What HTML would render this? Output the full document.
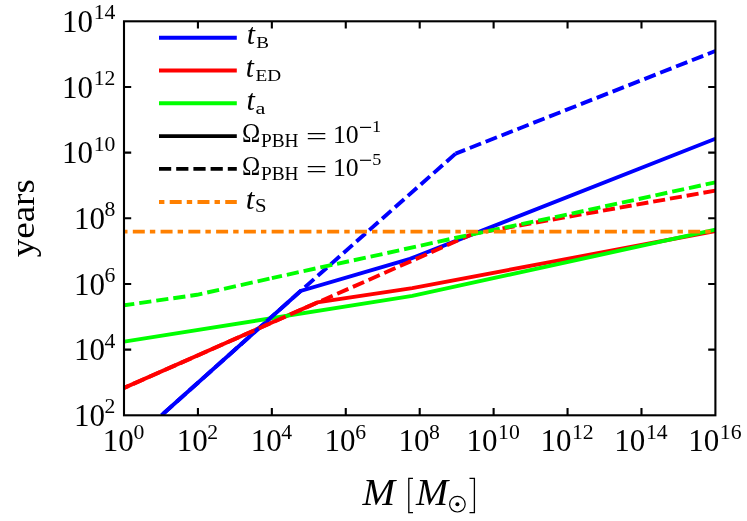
<!DOCTYPE html>
<html><head><meta charset="utf-8"><title>plot</title>
<style>
html,body{margin:0;padding:0;background:#fff;}
body{width:747px;height:521px;position:relative;overflow:hidden;font-family:"Liberation Serif",serif;}
</style></head><body>
<svg width="747" height="521" viewBox="0 0 747 521" style="position:absolute;left:0;top:0;will-change:transform">
<defs><clipPath id="c"><rect x="124.00" y="21.30" width="591.40" height="394.00"/></clipPath></defs>
<g clip-path="url(#c)" fill="none" stroke-width="3.90" stroke-linejoin="miter">
<polyline points="161.50,415.30 300.60,291.00 410.00,258.90 715.40,138.70" stroke="#0000ff"/>
<polyline points="124.00,388.00 317.40,302.40 412.30,288.10 715.40,231.00" stroke="#ff0000"/>
<polyline points="124.00,341.60 412.30,295.90 715.40,229.70" stroke="#00ff00"/>
<polyline points="161.50,415.30 300.60,291.00 455.60,153.60" stroke="#0000ff" stroke-dasharray="12.2 5" stroke-dashoffset="14.1"/>
<polyline points="455.60,153.60 715.40,51.00" stroke="#0000ff" stroke-dasharray="12.1 4.96" stroke-dashoffset="1.8"/>
<polyline points="124.00,388.00 473.20,233.70" stroke="#ff0000" stroke-dasharray="12.2 4.95" stroke-dashoffset="7.0"/>
<polyline points="473.20,233.70 715.40,190.60" stroke="#ff0000" stroke-dasharray="12.1 4.9" stroke-dashoffset="4.2"/>
<polyline points="124.00,305.30 197.00,294.80 271.85,278.10" stroke="#00ff00" stroke-dasharray="12.2 5" stroke-dashoffset="1.8"/>
<polyline points="271.85,278.10 320.00,267.50 380.00,254.60 455.00,238.00 555.00,217.20 715.40,182.30" stroke="#00ff00" stroke-dasharray="12.17 4.97" stroke-dashoffset="1.8"/>
<polyline points="124.00,231.60 715.40,231.60" stroke="#ff8000" stroke-dasharray="5.4 5.3 12 5.07" stroke-dashoffset="1.9"/>
</g>
<g stroke="#000" stroke-width="2.1" fill="none">
<rect x="124.00" y="21.30" width="591.40" height="394.00"/>
<path d="M197.93 415.30V408.10M197.93 21.30V28.50M271.85 415.30V408.10M271.85 21.30V28.50M345.77 415.30V408.10M345.77 21.30V28.50M419.70 415.30V408.10M419.70 21.30V28.50M493.62 415.30V408.10M493.62 21.30V28.50M567.55 415.30V408.10M567.55 21.30V28.50M641.48 415.30V408.10M641.48 21.30V28.50M124.00 349.63H131.20M715.40 349.63H708.20M124.00 283.97H131.20M715.40 283.97H708.20M124.00 218.30H131.20M715.40 218.30H708.20M124.00 152.63H131.20M715.40 152.63H708.20M124.00 86.97H131.20M715.40 86.97H708.20"/>
</g>
<g fill="none" stroke-width="3.90">
<path d="M159.0 37.70H236.8" stroke="#0000ff"/>
<path d="M159.0 70.50H236.8" stroke="#ff0000"/>
<path d="M159.0 103.30H236.8" stroke="#00ff00"/>
<path d="M159.0 136.10H236.8" stroke="#000"/>
<path d="M159.0 168.90H236.8" stroke="#000" stroke-dasharray="12.2 5"/>
<path d="M159.0 202.00H236.8" stroke="#ff8000" stroke-dasharray="5.4 5.3 12 5.07"/>
</g>
<g font-family='"Liberation Serif", serif' fill="#000">
<text x="102.78" y="450.70" font-size="31">10</text><text x="133.38" y="439.00" font-size="21.7">0</text>
<text x="176.70" y="450.70" font-size="31">10</text><text x="207.30" y="439.00" font-size="21.7">2</text>
<text x="250.63" y="450.70" font-size="31">10</text><text x="281.23" y="439.00" font-size="21.7">4</text>
<text x="324.55" y="450.70" font-size="31">10</text><text x="355.15" y="439.00" font-size="21.7">6</text>
<text x="398.47" y="450.70" font-size="31">10</text><text x="429.07" y="439.00" font-size="21.7">8</text>
<text x="466.48" y="450.70" font-size="31">10</text><text x="498.08" y="439.00" font-size="21.7">10</text>
<text x="540.40" y="450.70" font-size="31">10</text><text x="572.00" y="439.00" font-size="21.7">12</text>
<text x="614.33" y="450.70" font-size="31">10</text><text x="645.93" y="439.00" font-size="21.7">14</text>
<text x="688.25" y="450.70" font-size="31">10</text><text x="719.85" y="439.00" font-size="21.7">16</text>
<text x="73.95" y="426.10" font-size="31">10</text><text x="104.55" y="413.20" font-size="21.7">2</text>
<text x="73.95" y="360.43" font-size="31">10</text><text x="104.55" y="347.53" font-size="21.7">4</text>
<text x="73.95" y="294.77" font-size="31">10</text><text x="104.55" y="281.87" font-size="21.7">6</text>
<text x="73.95" y="229.10" font-size="31">10</text><text x="104.55" y="216.20" font-size="21.7">8</text>
<text x="62.10" y="163.43" font-size="31">10</text><text x="93.70" y="150.53" font-size="21.7">10</text>
<text x="62.10" y="97.77" font-size="31">10</text><text x="93.70" y="84.87" font-size="21.7">12</text>
<text x="62.10" y="32.10" font-size="31">10</text><text x="93.70" y="19.20" font-size="21.7">14</text>
</g>
<g font-family='"Liberation Serif", serif' fill="#000">
<text transform="translate(246.72 44.20) scale(1.0301 1)" font-size="28.75" font-style="italic">t</text>
<text transform="translate(256.33 47.80) scale(1.1017 1)" font-size="17.38" font-style="normal">B</text>
<text transform="translate(245.73 76.90) scale(1.0167 1)" font-size="28.75" font-style="italic">t</text>
<text transform="translate(255.42 80.80) scale(1.1501 1)" font-size="16.77" font-style="normal">ED</text>
<text transform="translate(246.50 109.80) scale(1.0500 1)" font-size="28.57" font-style="italic">t</text>
<text transform="translate(255.61 113.50) scale(1.2786 1)" font-size="17.45" font-style="normal">a</text>
<text transform="translate(242.07 142.30) scale(0.8908 1)" font-size="27.54" font-style="normal">Ω</text>
<text transform="translate(260.92 146.90) scale(1.0403 1)" font-size="18.62" font-style="normal">PBH</text>
<path d="M307.8 133.70H325.3M307.8 138.70H325.3" stroke="#000" stroke-width="1.3" fill="none"/>
<text transform="translate(332.88 142.60) scale(0.9996 1)" font-size="25.76" font-style="normal">10</text>
<path d="M360 127.40H371.1" stroke="#000" stroke-width="1.2" fill="none"/>
<text transform="translate(372.05 132.10) scale(1.1175 1)" font-size="16.36" font-style="normal">1</text>
<text transform="translate(242.07 175.20) scale(0.8908 1)" font-size="27.54" font-style="normal">Ω</text>
<text transform="translate(260.92 179.80) scale(1.0403 1)" font-size="18.62" font-style="normal">PBH</text>
<path d="M307.8 166.60H325.3M307.8 171.60H325.3" stroke="#000" stroke-width="1.3" fill="none"/>
<text transform="translate(332.88 175.50) scale(0.9996 1)" font-size="25.76" font-style="normal">10</text>
<path d="M360 160.30H371.1" stroke="#000" stroke-width="1.2" fill="none"/>
<text transform="translate(372.36 165.30) scale(1.0502 1)" font-size="17.23" font-style="normal">5</text>
<text transform="translate(245.85 208.80) scale(1.0573 1)" font-size="29.46" font-style="italic">t</text>
<text transform="translate(255.05 212.40) scale(1.0858 1)" font-size="19.08" font-style="normal">S</text>
<text transform="translate(362.39 504.80) scale(1.0416 1)" font-size="37.54" font-style="italic">M</text>
<text transform="translate(415.99 504.80) scale(1.0267 1)" font-size="37.54" font-style="italic">M</text>
<path d="M413 478.4H408.8V512.6H413M469.5 478.4H474.4V512.6H469.5" stroke="#000" stroke-width="1.3" fill="none"/>
<circle cx="457.4" cy="504.2" r="7.8" stroke="#000" stroke-width="1.2" fill="none"/><circle cx="457.4" cy="504.2" r="2" fill="#000"/>
<g transform="translate(33.8 256.9) rotate(-90)"><text transform="translate(-0.37 0.00) scale(1.0680 1)" font-size="34.68" font-style="normal">years</text></g>
</g>
</svg>
</body></html>
